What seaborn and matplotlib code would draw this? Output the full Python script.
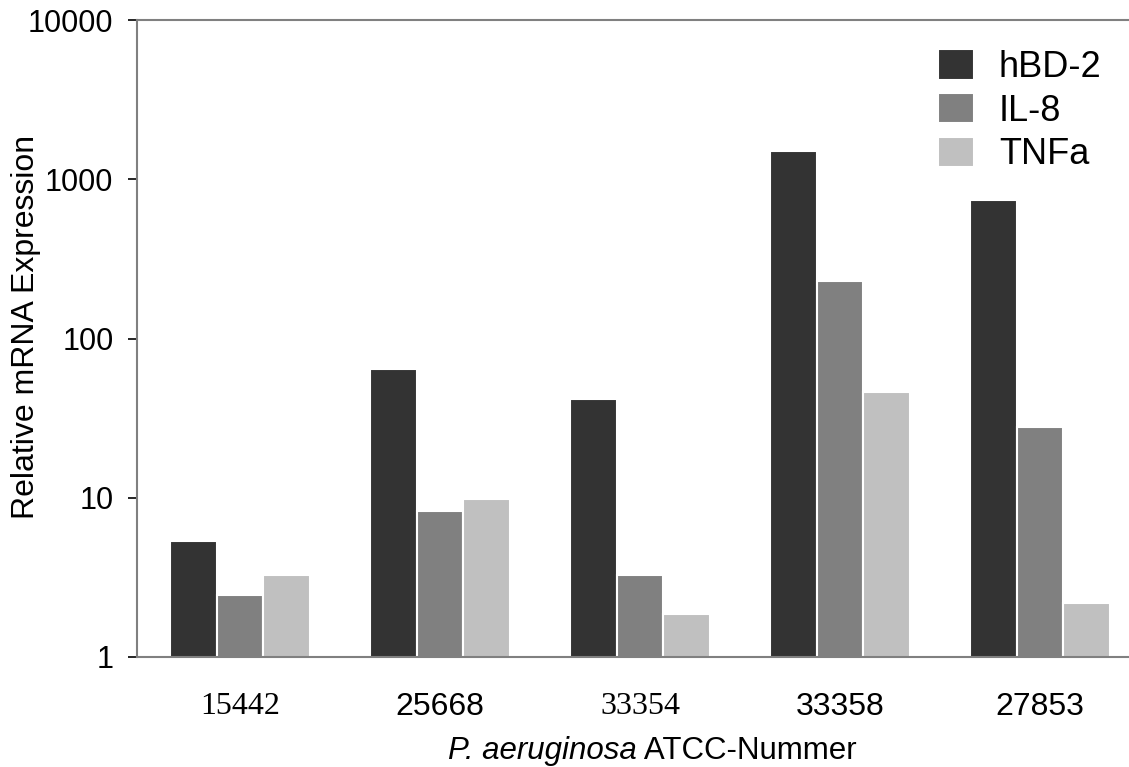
import matplotlib
matplotlib.use("Agg")
import matplotlib.pyplot as plt
import seaborn as sns
import pandas as pd

# strains on the x axis and the three markers
strains = ["15442", "25668", "33354", "33358", "27853"]
genes = ["hBD-2", "IL-8", "TNFa"]

# relative mRNA expression
hbd2 = [5.35, 64.3, 41.7, 1505, 741]
il8 = [2.45, 8.3, 3.27, 230, 27.8]
tnfa = [3.27, 9.8, 1.86, 46.1, 2.18]

colors = ["#333333", "#808080", "#c0c0c0"]
serif_labels = ["15442", "33354"]  # these two are set in a Times-like face

rows = []
for gene, vals in zip(genes, [hbd2, il8, tnfa]):
    for s, v in zip(strains, vals):
        rows.append({"strain": s, "gene": gene, "value": v})
df = pd.DataFrame(rows)

sns.set_style("white")
plt.rcParams["font.family"] = ["Liberation Sans", "DejaVu Sans"]
plt.rcParams["text.color"] = "black"
plt.rcParams["axes.labelcolor"] = "black"
plt.rcParams["xtick.color"] = "black"
plt.rcParams["ytick.color"] = "black"

fig = plt.figure(figsize=(11.29, 7.67), dpi=100)
ax = fig.add_axes([137 / 1129, 110 / 767, 1 - 137 / 1129, 637 / 767])

sns.barplot(data=df, x="strain", y="value", hue="gene", order=strains,
            hue_order=genes, palette=colors, width=0.7, saturation=1,
            edgecolor="white", linewidth=1.5, errorbar=None, ax=ax)

ax.set_yscale("log")
ax.set_ylim(1, 10000)
ax.set_xlim(-0.515, 4.445)
ax.set_yticks([1, 10, 100, 1000, 10000])
ax.set_yticklabels(["1", "10", "100", "1000", "10000"])
ax.minorticks_off()

for side in ["left", "bottom", "top"]:
    ax.spines[side].set_color("#808080")
    ax.spines[side].set_linewidth(1.5)
ax.spines["right"].set_visible(False)

ax.tick_params(axis="y", length=6.5, width=1.2, color="black", pad=10.5,
               labelsize=22, left=True)
ax.tick_params(axis="x", length=0, pad=25, labelsize=23)

for lab in ax.get_xticklabels():
    if lab.get_text() in serif_labels:
        lab.set_family("Liberation Serif")

ax.set_ylabel("Relative mRNA Expression", fontsize=23)
ax.yaxis.set_label_coords(-0.097, 0.518)
ax.set_xlabel("")

# mixed italic / upright x label, built from two pieces
t1 = fig.text(0, 0, "P. aeruginosa", fontsize=22.5, style="italic")
t2 = fig.text(0, 0, " ATCC-Nummer", fontsize=22.5)
fig.canvas.draw()
r = fig.canvas.get_renderer()
w1 = t1.get_window_extent(r).width
w2 = t2.get_window_extent(r).width
x0 = (652 - (w1 + w2) / 2) / 1129
t1.set_position((x0, 8 / 767))
t2.set_position((x0 + w1 / 1129, 8 / 767))

ax.legend(loc="upper right", bbox_to_anchor=(0.987, 1 - 15 / 637),
          frameon=False, fontsize=26, handlelength=1.0, handleheight=0.92,
          handletextpad=0.7, labelspacing=0.22, borderaxespad=0)

fig.savefig("out.png", dpi=100)
